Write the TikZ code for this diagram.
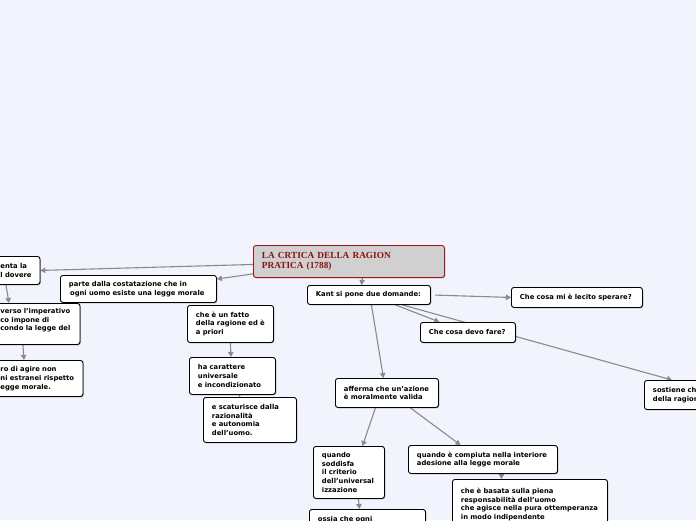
\documentclass[tikz,border=0pt]{standalone}
\usepackage{fontspec}
\setmainfont{DejaVu Sans}
\newfontfamily\titlefont{Liberation Serif}
\usetikzlibrary{arrows.meta,shadows}
\pgfdeclarelayer{bgfill}
\pgfdeclarelayer{edges}
\pgfsetlayers{bgfill,edges,main}
\definecolor{bgcol}{RGB}{242,244,253}
\definecolor{linecol}{RGB}{138,138,142}
\definecolor{titlefill}{RGB}{208,208,208}
\definecolor{titleborder}{RGB}{165,20,20}
\definecolor{titletext}{RGB}{140,18,18}
\hyphenpenalty=10000\relax
\tikzset{
  box/.style={draw=black, line width=0.9pt, rounded corners=2.5pt, fill=white,
    anchor=north west, align=left, inner xsep=8.5pt, inner ysep=1pt,
    font=\fontsize{6.8}{8.7}\selectfont\bfseries,
    drop shadow={shadow xshift=0.8pt, shadow yshift=-0.8pt, opacity=0.3, fill=black}},
  titlebox/.style={box, draw=titleborder, fill=titlefill, text=titletext,
    font=\titlefont\fontsize{9.3}{10.7}\selectfont\bfseries},
  conn/.style={draw=linecol, line width=1.1pt, -{Triangle[length=5pt,width=5.5pt]}}
}
\begin{document}
\begin{tikzpicture}[x=1pt,y=-1pt]
\useasboundingbox (0,0) rectangle (696,520);
\begin{pgfonlayer}{bgfill}
\fill[bgcol] (0,0) rectangle (696,520);
\end{pgfonlayer}
\clip (0,0) rectangle (696,520);

\node[titlebox, text width=174pt, minimum height=32pt] (title) at (253,245)
  {LA~CRTICA~DELLA~RAGION\\PRATICA~(1788)};
\node[box, text width=106pt, minimum height=19pt] (kant) at (307,285)
  {Kant~si~pone~due~domande:};
\node[box, text width=114pt, minimum height=20pt] (spera) at (511,287)
  {Che~cosa~mi~è~lecito~sperare?};
\node[box, text width=78pt, minimum height=20pt] (devo) at (420,322)
  {Che~cosa~devo~fare?};
\node[box, text width=70pt, minimum height=29pt] (sost) at (644,380)
  {sostiene~che\\della~ragione};
\node[box, text width=86pt, minimum height=29pt] (aff) at (335,378)
  {afferma~che~un'azione\\è~moralmente~valida};
\node[box, text width=54pt, minimum height=52pt] (qsodd) at (313,446)
  {quando\\soddisfa\\il~criterio\\dell'universal\\izzazione};
\node[box, text width=132pt, minimum height=28pt] (qcomp) at (408,445)
  {quando~è~compiuta~nella~interiore\\adesione~alla~legge~morale};
\node[box, text width=138pt, minimum height=50pt] (basata) at (452,479)
  {che~è~basata~sulla~piena\\responsabilità~dell'uomo\\che~agisce~nella~pura~ottemperanza\\in~modo~indipendente};
\node[box, text width=99pt, minimum height=20pt] (ossia) at (309,509)
  {ossia~che~ogni};
\node[box, text width=139pt, minimum height=27pt] (parte) at (60,275)
  {parte~dalla~costatazione~che~in\\\,ogni~uomo~esiste~una~legge~morale};
\node[box, text width=69pt, minimum height=37pt] (fatto) at (187,305)
  {che~è~un~fatto\\della~ragione~ed~è\\a~priori};
\node[box, text width=69pt, minimum height=37pt] (carat) at (189,357)
  {ha~carattere\\universale\\e~incondizionato};
\node[box, text width=76pt, minimum height=45pt] (scat) at (203,397)
  {e~scaturisce~dalla\\razionalità\\e~autonomia\\dell'uomo.};
\node[box, text width=31pt, minimum height=28pt] (L1) at (-8.5,256)
  {enta~la\\l~dovere};
\node[box, text width=71pt, minimum height=41pt] (L2) at (-8.5,303)
  {verso~l'imperativo\\co~impone~di\\condo~la~legge~del\\\mbox{}};
\node[box, text width=74pt, minimum height=36pt] (L3) at (-8.5,360)
  {ro~di~agire~non\\ni~estranei~rispetto\\egge~morale.};

\begin{pgfonlayer}{edges}
\draw[conn] ([yshift=-3pt]title.west) -- (L1.east);
\draw[conn] ([yshift=4pt]title.south west) -- ([yshift=-4pt]parte.north east);
\draw[conn] ([xshift=13.5pt]title.south) -- ([xshift=-7.5pt]kant.north);
\draw[conn, shorten <=4pt] (kant.east) -- (spera.west);
\draw[conn] ([xshift=26.5pt]kant.south) -- ([xshift=-28.5pt]devo.north);
\draw[conn] ([xshift=33.5pt]kant.south) -- ([xshift=28pt]sost.north west);
\draw[conn] ([xshift=2.5pt]kant.south) -- ([xshift=-3.5pt]aff.north);
\draw[conn] ([xshift=-11.5pt]aff.south) -- ([xshift=13.5pt]qsodd.north);
\draw[conn] ([xshift=23.5pt]aff.south) -- ([xshift=-22.5pt]qcomp.north);
\draw[conn] ([xshift=9.5pt]qsodd.south) -- ([xshift=-8pt]ossia.north);
\draw[conn] ([xshift=18.5pt]qcomp.south) -- ([xshift=-28.5pt]basata.north);
\draw[conn] (fatto.south) -- ([xshift=-1.5pt]carat.north);
\draw[conn] ([xshift=7pt]carat.south) -- ([xshift=-10.5pt]scat.north);
\draw[conn] ([xshift=-10pt]L1.south) -- ([xshift=-27pt]L2.north);
\draw[conn] ([xshift=-13pt]L2.south) -- ([xshift=-13.5pt]L3.north);
\end{pgfonlayer}
\end{tikzpicture}
\end{document}
